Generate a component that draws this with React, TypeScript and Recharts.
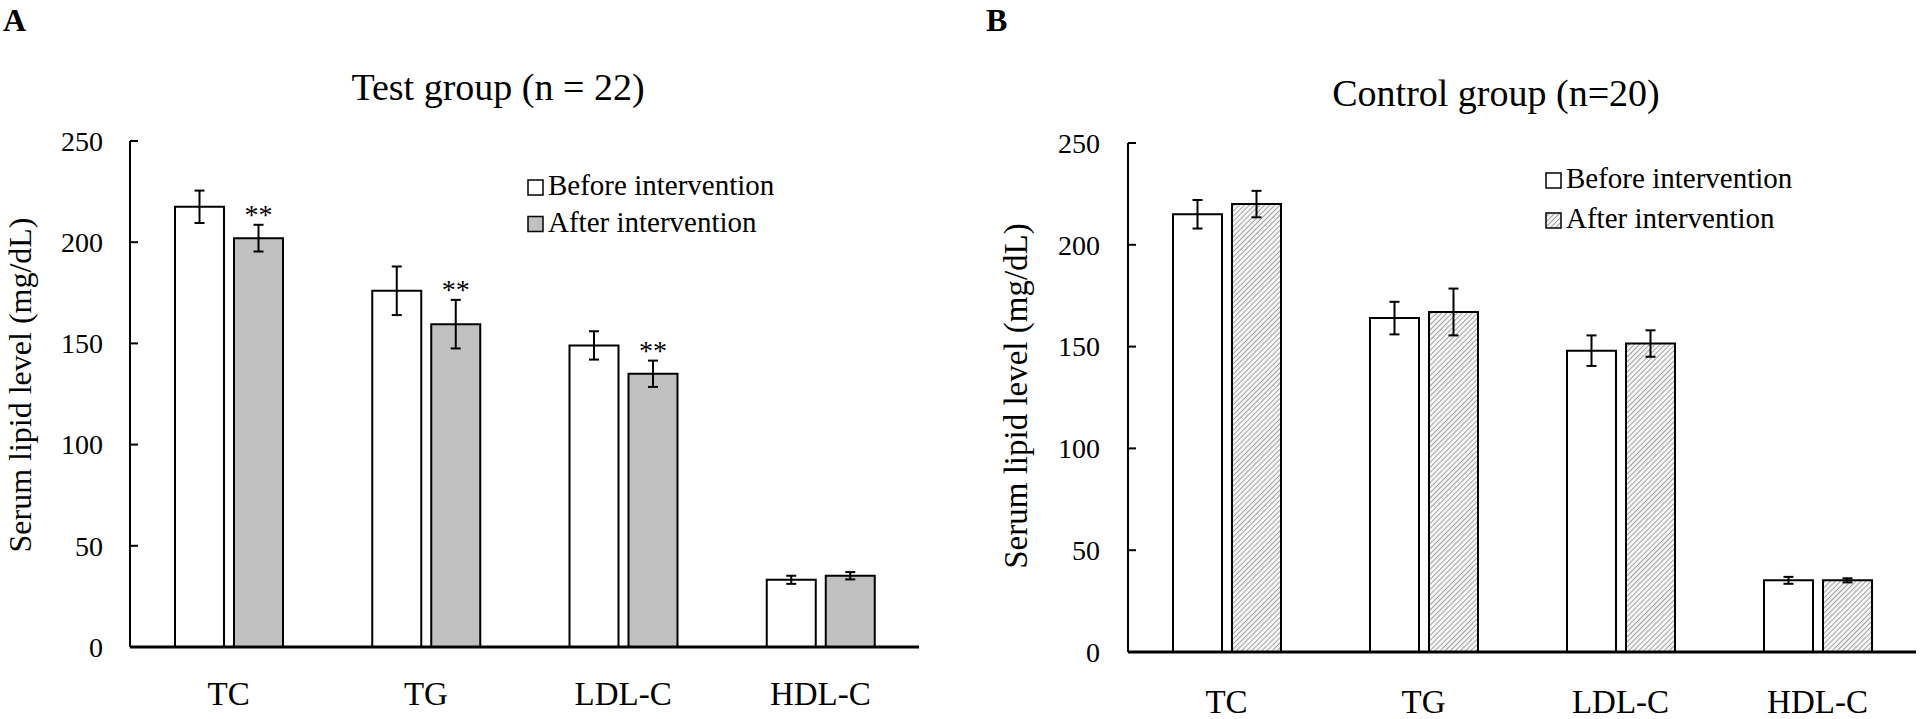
import React from 'react';
import { BarChart, Bar, XAxis, YAxis, ErrorBar, Legend, LabelList } from 'recharts';

const FONT = '"Liberation Serif", "Times New Roman", serif';

const categories = ['TC', 'TG', 'LDL-C', 'HDL-C'];
const yTicks = [0, 50, 100, 150, 200, 250];
const seriesOrder = ['before', 'after'];

// Test group (n = 22)
const testBefore = [217.5, 176, 149, 33.2];
const testBeforeSd = [8, 12, 7, 2];
const testAfter = [202, 159.5, 135, 35.2];
const testAfterSd = [6.6, 12, 6.5, 1.8];
const testMarks = ['**', '**', '**', ''];

// Control group (n=20)
const ctrlBefore = [215, 164, 148, 35.2];
const ctrlBeforeSd = [7, 8, 7.5, 1.7];
const ctrlAfter = [220, 167, 151.5, 35.2];
const ctrlAfterSd = [6.5, 11.5, 6.5, 1];
const ctrlMarks = ['', '', '', ''];

type Row = { name: string; before: number; beforeSd: number; after: number; afterSd: number; mark: string };

const buildRows = (b: number[], bSd: number[], a: number[], aSd: number[], marks: string[]): Row[] =>
  categories.map((name, i) => ({ name, before: b[i], beforeSd: bSd[i], after: a[i], afterSd: aSd[i], mark: marks[i] }));

const testRows = buildRows(testBefore, testBeforeSd, testAfter, testAfterSd, testMarks);
const ctrlRows = buildRows(ctrlBefore, ctrlBeforeSd, ctrlAfter, ctrlAfterSd, ctrlMarks);

type PanelProps = {
  left: number;
  letter: string;
  letterX: number;
  title: string;
  titleX: number;
  titleY: number;
  rows: Row[];
  afterFill: string;
  patternId?: string;
  yAxisW: number;
  marginRight: number;
  marginTop: number;
  xAxisH: number;
  yTickGap: number;
  xTickMargin: number;
  yLabelX: number;
  yLabelY: number;
  yLabelSize: number;
  legendX: number;
  legendY: number;
  legendRowGap: number;
  legendBox: number;
};

const W = 960;
const H = 719;

const Panel = (p: PanelProps) => {
  const plotH = H - p.marginTop - p.xAxisH;
  const ppu = plotH / 250;

  const YTick = (props: any) => {
    const { x, y, payload } = props;
    const ax = x + p.yTickGap;
    return (
      <g>
        <line x1={ax} x2={ax + 8} y1={y} y2={y} stroke="#000" strokeWidth={2} />
        <text x={x} y={y} dy="0.35em" textAnchor="end" fontSize={28} fontFamily={FONT} fill="#000">
          {payload.value}
        </text>
      </g>
    );
  };

  const XTick = (props: any) => {
    const { x, y, payload } = props;
    return (
      <text x={x} y={y} dy="0.71em" textAnchor="middle" fontSize={33} fontFamily={FONT} fill="#000">
        {payload.value}
      </text>
    );
  };

  // significance marks sit just above the error bar cap
  const StarLabel = (props: any) => {
    const { x, y, width, value, index } = props;
    if (!value) return null;
    const top = y - p.rows[index].afterSd * ppu;
    return (
      <text x={x + width / 2} y={top - 1} textAnchor="middle" fontSize={28} fontFamily={FONT} fill="#000">
        {value}
      </text>
    );
  };

  const renderLegend = (props: any) => {
    const items = [...(props.payload || [])].sort(
      (a: any, b: any) => seriesOrder.indexOf(a.dataKey) - seriesOrder.indexOf(b.dataKey)
    );
    return (
      <svg width={300} height={90} style={{ overflow: 'visible' }}>
        {items.map((it: any, i: number) => {
          const base = 30 + i * p.legendRowGap;
          return (
            <g key={i}>
              <rect x={8} y={base - p.legendBox} width={p.legendBox} height={p.legendBox} fill={it.color} stroke="#000" strokeWidth={1.5} />
              <text x={8 + p.legendBox + 5} y={base} fontSize={29} fontFamily={FONT} fill="#000">
                {it.value}
              </text>
            </g>
          );
        })}
      </svg>
    );
  };

  return (
    <div style={{ position: 'absolute', left: p.left, top: 0, width: W, height: H }}>
      <BarChart
        width={W}
        height={H}
        data={p.rows}
        margin={{ top: p.marginTop, right: p.marginRight, bottom: 0, left: 0 }}
        barGap={10}
      >
        {p.patternId && (
          <defs>
            <pattern id={p.patternId} patternUnits="userSpaceOnUse" width={3.6} height={3.6} patternTransform="rotate(45)">
              <rect width={3.6} height={3.6} fill="#f6f6f6" />
              <line x1={0} y1={0} x2={0} y2={3.6} stroke="#7c7c7c" strokeWidth={1.3} />
            </pattern>
          </defs>
        )}
        <XAxis
          dataKey="name"
          height={p.xAxisH}
          tickLine={false}
          tickSize={0}
          tickMargin={p.xTickMargin}
          axisLine={{ stroke: '#000', strokeWidth: 3 }}
          tick={<XTick />}
          interval={0}
        />
        <XAxis xAxisId="top" dataKey="name" orientation="top" height={0} tick={false} tickLine={false} axisLine={{ stroke: '#000', strokeWidth: 2 }} />
        <YAxis
          width={p.yAxisW}
          domain={[0, 250]}
          ticks={yTicks}
          interval={0}
          tickLine={false}
          tickSize={0}
          tickMargin={p.yTickGap}
          axisLine={{ stroke: '#000', strokeWidth: 2 }}
          tick={<YTick />}
        />
        <YAxis yAxisId="right" orientation="right" width={0} domain={[0, 250]} tick={false} tickLine={false} axisLine={{ stroke: '#000', strokeWidth: 2 }} />
        <Legend
          layout="horizontal"
          verticalAlign="middle"
          align="center"
          wrapperStyle={{ position: 'absolute', left: p.legendX, top: p.legendY, width: 300, height: 90 }}
          content={renderLegend}
        />
        <Bar dataKey="before" name="Before intervention" fill="#ffffff" stroke="#000" strokeWidth={2} barSize={49} isAnimationActive={false}>
          <ErrorBar dataKey="beforeSd" width={5} stroke="#000" strokeWidth={2} isAnimationActive={false} />
        </Bar>
        <Bar dataKey="after" name="After intervention" fill={p.afterFill} stroke="#000" strokeWidth={2} barSize={49} isAnimationActive={false}>
          <ErrorBar dataKey="afterSd" width={5} stroke="#000" strokeWidth={2} isAnimationActive={false} />
          <LabelList dataKey="mark" content={StarLabel} />
        </Bar>
      </BarChart>
      <svg width={W} height={H} style={{ position: 'absolute', left: 0, top: 0, pointerEvents: 'none' }}>
        <text x={p.letterX} y={31} fontSize={32} fontWeight="bold" fontFamily={FONT} fill="#000">
          {p.letter}
        </text>
        <text x={p.titleX} y={p.titleY} textAnchor="middle" fontSize={38} fontFamily={FONT} fill="#000">
          {p.title}
        </text>
        <text
          transform={`translate(${p.yLabelX},${p.yLabelY}) rotate(-90)`}
          textAnchor="middle"
          fontSize={p.yLabelSize}
          fontFamily={FONT}
          fill="#000"
        >
          Serum lipid level (mg/dL)
        </text>
      </svg>
    </div>
  );
};

export default function App() {
  return (
    <div style={{ position: 'absolute', left: 0, top: 0, width: 1920, height: 719, background: '#fff', overflow: 'hidden' }}>
      <Panel
        left={0}
        letter="A"
        letterX={3}
        title="Test group (n = 22)"
        titleX={498}
        titleY={100}
        rows={testRows}
        afterFill="#c0c0c0"
        yAxisW={130}
        marginRight={41}
        marginTop={141}
        xAxisH={72}
        yTickGap={27}
        xTickMargin={35}
        yLabelX={31}
        yLabelY={385}
        yLabelSize={32}
        legendX={520}
        legendY={165}
        legendRowGap={36.5}
        legendBox={15}
      />
      <Panel
        left={960}
        letter="B"
        letterX={26}
        title="Control group (n=20)"
        titleX={536}
        titleY={106}
        rows={ctrlRows}
        afterFill="url(#hatchB)"
        patternId="hatchB"
        yAxisW={168}
        marginRight={4}
        marginTop={143}
        xAxisH={67}
        yTickGap={28}
        xTickMargin={38}
        yLabelX={67}
        yLabelY={396}
        yLabelSize={33}
        legendX={578}
        legendY={158}
        legendRowGap={40}
        legendBox={15}
      />
    </div>
  );
}
